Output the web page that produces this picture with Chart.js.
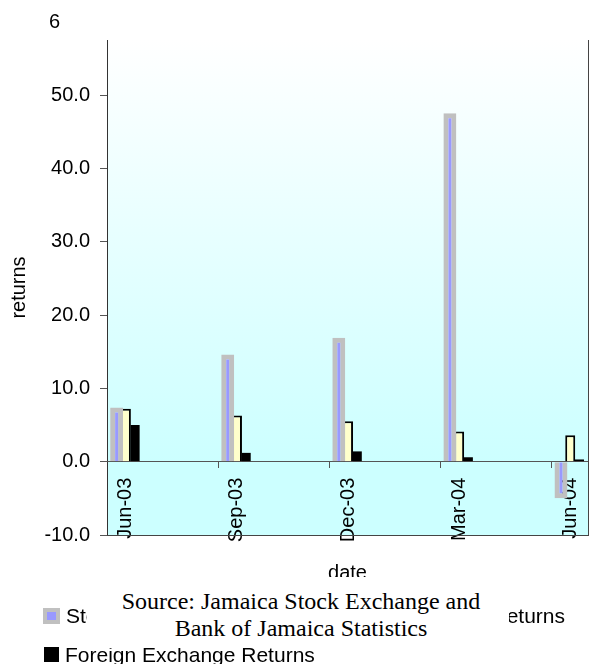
<!DOCTYPE html>
<html>
<head>
<meta charset="utf-8">
<title>Returns by quarter</title>
<script src="https://cdn.jsdelivr.net/npm/chart.js@4.4.0/dist/chart.umd.min.js"></script>
<style>
  html, body { margin: 0; padding: 0; background: #fff; }
  #wrap { position: relative; width: 589px; height: 664px; overflow: hidden; font-family: 'Liberation Sans', Arial, sans-serif; color: #000; }
  #chart { position: absolute; left: 0; top: 0; }
  .clipped-tick { position: absolute; left: 49px; top: 11px; font-size: 20px; line-height: 20px; }
  .legend-item { position: absolute; display: flex; align-items: center; font-size: 21px; line-height: 21px; white-space: nowrap; }
  .legend-item .swatch { box-sizing: border-box; margin-right: 6px; }
  #source { position: absolute; left: 87px; top: 577px; width: 422px; height: 71px; padding: 11px 0 0 6px; box-sizing: border-box;
            background: #fff; text-align: center; font-family: 'Liberation Serif', 'Times New Roman', serif; font-size: 24px; line-height: 27px; }
</style>
</head>
<body>
<div id="wrap">
  <canvas id="chart" width="589" height="664"></canvas>
  <div class="clipped-tick">6</div>
  <div id="legend"></div>
  <div id="source">Source: Jamaica Stock Exchange and<br>Bank of Jamaica Statistics</div>
</div>
<script>
// quarterly returns (%)
const quarters = ['Jun-03', 'Sep-03', 'Dec-03', 'Mar-04', 'Jun-04'];
const stockReturns = [7.4, 14.6, 16.9, 47.5, -5.0];
const tbillReturns = [7.2, 6.3, 5.5, 4.1, 3.6];
const fxReturns = [5.0, 1.2, 1.4, 0.6, 0.3];
const seriesNames = ['Stock Returns', 'Treasury Bill Returns', 'Foreign Exchange Returns'];
const yTicks = [-10, 0, 10, 20, 30, 40, 50];

// x range in quarter units; the group sits just right of each boundary tick
const xMin = -0.17;
const xMax = 4.16;

Chart.defaults.font.family = "'Liberation Sans', Arial, sans-serif";
Chart.defaults.color = '#000';

const toPoints = vals => vals.map((v, i) => ({ x: i, y: v }));

// keep the plot box fixed: scales must not reserve room for overhanging labels
const noPad = s => { s.paddingLeft = s.paddingRight = s.paddingTop = s.paddingBottom = 0; };

// light gradient behind the bars, flat cyan under the zero line
const plotFill = {
    id: 'plotFill',
    beforeDraw(chart) {
        const { ctx, chartArea: a, scales } = chart;
        const zeroY = scales.y.getPixelForValue(0);
        const g = ctx.createLinearGradient(0, a.top, 0, zeroY);
        g.addColorStop(0, '#ffffff');
        g.addColorStop(1, '#ccffff');
        ctx.save();
        ctx.fillStyle = g;
        ctx.fillRect(a.left, a.top, a.width, zeroY - a.top);
        ctx.fillStyle = '#ccffff';
        ctx.fillRect(a.left, zeroY, a.width, a.bottom - zeroY);
        ctx.restore();
    }
};

const chart = new Chart(document.getElementById('chart'), {
    type: 'bar',
    data: {
        datasets: [
            {
                label: seriesNames[0], data: toPoints(stockReturns),
                backgroundColor: '#9999ff', borderColor: '#c0c0c0', borderWidth: 5,
                barPercentage: 1.4
            },
            {
                label: seriesNames[1], data: toPoints(tbillReturns),
                backgroundColor: '#ffffcc', borderColor: '#000000', borderWidth: 2,
                barPercentage: 1.08
            },
            {
                label: seriesNames[2], data: toPoints(fxReturns),
                backgroundColor: '#000000', borderColor: '#000000', borderWidth: 0,
                barPercentage: 0.97
            }
        ].map(ds => ({ ...ds, xAxisID: 'x', yAxisID: 'y', categoryPercentage: 0.25 }))
    },
    options: {
        responsive: false,
        animation: false,
        devicePixelRatio: 1,
        layout: { padding: { top: 40, left: 0, right: 1, bottom: 79 } },
        plugins: { legend: { display: false }, tooltip: { enabled: false } },
        scales: {
            y: {
                type: 'linear', position: 'left', min: -10, max: 57.5,
                afterBuildTicks: s => { s.ticks = yTicks.map(v => ({ value: v })); },
                afterFit: s => { noPad(s); s.width = 107; },
                ticks: { font: { size: 20 }, padding: 10, callback: v => v.toFixed(1) },
                grid: { display: true, drawOnChartArea: false, drawTicks: true, tickLength: 7, color: '#555' },
                border: { display: true, color: '#333', width: 1 },
                title: { display: true, text: 'returns', font: { size: 20 }, padding: { top: 7, bottom: 0 } }
            },
            x: {
                type: 'linear', axis: 'x', position: { y: 0 }, min: xMin, max: xMax, offset: false,
                afterBuildTicks: s => { s.ticks = quarters.map((q, i) => ({ value: i })); },
                afterFit: noPad,
                ticks: {
                    autoSkip: false, minRotation: 90, maxRotation: 90, padding: 16,
                    font: { size: 20 }, callback: v => quarters[v]
                },
                grid: { display: false, drawTicks: false },
                border: { display: false }
            },
            // zero line with the boundary tick marks
            x2: {
                type: 'linear', axis: 'x', position: { y: 0 }, min: xMin, max: xMax, offset: false,
                afterBuildTicks: s => { s.ticks = quarters.map((q, i) => ({ value: xMin + i })); },
                afterFit: noPad,
                ticks: { display: false },
                grid: { display: true, drawOnChartArea: false, drawTicks: true, tickLength: 6, color: '#555', offset: false },
                border: { display: true, color: '#555', width: 1 }
            },
            // frame at the bottom and right of the plot
            xb: {
                type: 'linear', axis: 'x', position: 'bottom', min: 0, max: 1,
                afterFit: noPad,
                ticks: { display: false },
                grid: { display: false, drawTicks: false },
                border: { display: true, color: '#444', width: 1 },
                title: { display: true, text: 'date', font: { size: 20 }, padding: { top: 26, bottom: 0 } }
            },
            yr: {
                type: 'linear', axis: 'y', position: 'right', min: 0, max: 1,
                afterFit: noPad,
                ticks: { display: false },
                grid: { display: false, drawTicks: false },
                border: { display: true, color: '#444', width: 1 }
            }
        }
    },
    plugins: [plotFill]
});

// legend: two entries on the first row, one on the second
const legendSlots = [
    { left: '43px', top: '605px' },
    { right: '24px', top: '605px' },
    { left: '44px', top: '644px' }
];
const legend = document.getElementById('legend');
chart.data.datasets.forEach((ds, i) => {
    const item = document.createElement('div');
    item.className = 'legend-item';
    Object.assign(item.style, legendSlots[i]);
    const sw = document.createElement('span');
    sw.className = 'swatch';
    const bw = Math.min(ds.borderWidth, 4);
    sw.style.width = (i === 0 ? 17 : 15) + 'px';
    sw.style.height = (i === 0 ? 16 : 15) + 'px';
    sw.style.background = ds.backgroundColor;
    sw.style.border = bw + 'px solid ' + ds.borderColor;
    item.appendChild(sw);
    item.appendChild(document.createTextNode(ds.label));
    legend.appendChild(item);
});
</script>
</body>
</html>
